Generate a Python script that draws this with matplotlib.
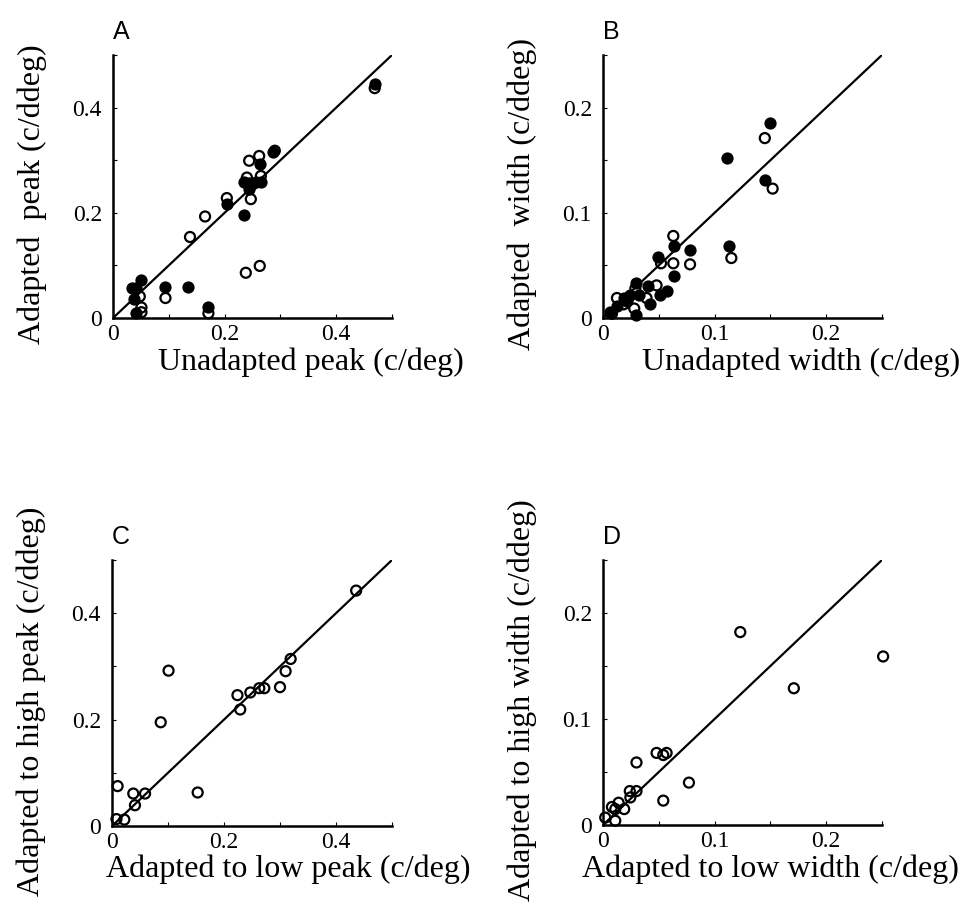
import matplotlib
matplotlib.use("Agg")
import matplotlib.pyplot as plt
from matplotlib.ticker import FixedLocator, FixedFormatter

# ---- Panel A: peak spatial frequency, unadapted vs adapted ----
peak_unadapted_solid = [0.469, 0.286, 0.263, 0.235, 0.244, 0.250, 0.257, 0.266, 0.243, 0.205,
                        0.235, 0.051, 0.034, 0.042, 0.093, 0.135, 0.038, 0.042, 0.171]
peak_adapted_solid = [0.445, 0.316, 0.292, 0.258, 0.256, 0.255, 0.258, 0.258, 0.245, 0.217,
                      0.195, 0.072, 0.057, 0.057, 0.058, 0.058, 0.036, 0.009, 0.020]
peak_unadapted_hollow = [0.469, 0.290, 0.244, 0.262, 0.240, 0.265, 0.247, 0.204, 0.165, 0.138,
                         0.238, 0.263, 0.094, 0.048, 0.051, 0.051, 0.171]
peak_adapted_hollow = [0.437, 0.318, 0.299, 0.308, 0.267, 0.270, 0.226, 0.228, 0.193, 0.154,
                       0.086, 0.099, 0.038, 0.041, 0.020, 0.011, 0.009]

# ---- Panel B: bandwidth, unadapted vs adapted ----
width_unadapted_solid = [0.150, 0.111, 0.145, 0.064, 0.078, 0.113, 0.049, 0.064, 0.030, 0.040,
                         0.051, 0.057, 0.042, 0.0245, 0.0185, 0.0215, 0.0125, 0.0066, 0.030, 0.032]
width_adapted_solid = [0.185, 0.152, 0.131, 0.068, 0.065, 0.068, 0.058, 0.040, 0.033, 0.030,
                       0.022, 0.026, 0.013, 0.022, 0.019, 0.016, 0.011, 0.006, 0.003, 0.022]
width_unadapted_hollow = [0.145, 0.152, 0.063, 0.115, 0.052, 0.063, 0.078, 0.029, 0.048, 0.0125,
                          0.028, 0.0185, 0.039, 0.008]
width_adapted_hollow = [0.171, 0.123, 0.078, 0.057, 0.052, 0.052, 0.051, 0.028, 0.031, 0.019,
                        0.009, 0.013, 0.019, 0.004]

# ---- Panel C: peak after low vs high adaptation ----
peak_low = [0.436, 0.319, 0.310, 0.300, 0.263, 0.272, 0.247, 0.224, 0.229, 0.101,
            0.087, 0.010, 0.038, 0.059, 0.041, 0.153, 0.008, 0.022]
peak_high = [0.4425, 0.314, 0.291, 0.261, 0.259, 0.259, 0.251, 0.246, 0.219, 0.292,
             0.195, 0.075, 0.061, 0.061, 0.039, 0.063, 0.013, 0.012]

# ---- Panel D: width after low vs high adaptation ----
width_low = [0.123, 0.251, 0.171, 0.048, 0.054, 0.057, 0.030, 0.077, 0.054, 0.024,
             0.030, 0.0245, 0.014, 0.008, 0.019, 0.011, 0.002, 0.011]
width_high = [0.182, 0.159, 0.129, 0.068, 0.066, 0.068, 0.059, 0.040, 0.023, 0.032,
              0.032, 0.026, 0.021, 0.017, 0.015, 0.015, 0.007, 0.004]

peak_ticks = [0, 0.1, 0.2, 0.3, 0.4, 0.5]
peak_ticklabels = ["0", "", "0.2", "", "0.4", ""]
width_ticks = [0, 0.05, 0.1, 0.15, 0.2, 0.25]
width_ticklabels = ["0", "", "0.1", "", "0.2", ""]

panel_letters = ["A", "B", "C", "D"]
x_titles = ["Unadapted peak (c/deg)", "Unadapted width (c/deg)",
            "Adapted to low peak (c/deg)", "Adapted to low width (c/deg)"]
y_titles = ["Adapted  peak (c/ddeg)", "Adapted  width (c/ddeg)",
            "Adapted to high peak (c/ddeg)", "Adapted to high width (c/ddeg)"]

SERIF = ["Liberation Serif", "DejaVu Serif"]
W, H = 959, 914
fig = plt.figure(figsize=(W / 100, H / 100), dpi=100)

# axes boxes in pixels: left, top, right, bottom
boxes = [(113, 55, 392, 318), (603, 55, 882, 318),
         (112, 560, 392, 826), (603, 560, 882, 825)]
axes = []
for (l, t, r, b) in boxes:
    axes.append(fig.add_axes([l / W, 1 - b / H, (r - l) / W, (b - t) / H]))

mk = dict(s=52, linewidths=1.6, edgecolors="black", clip_on=False, zorder=3)


def style(ax, lim, ticks, labels, letter, xt, yt, xlab_x):
    ax.set_xlim(0, lim)
    ax.set_ylim(0, lim)
    ax.plot([0, lim], [0, lim], color="black", lw=1.6, zorder=2)
    for s in ("top", "right"):
        ax.spines[s].set_visible(False)
    for s in ("left", "bottom"):
        ax.spines[s].set_linewidth(1.8)
    ax.xaxis.set_major_locator(FixedLocator(ticks))
    ax.xaxis.set_major_formatter(FixedFormatter(labels))
    ax.yaxis.set_major_locator(FixedLocator(ticks))
    ax.yaxis.set_major_formatter(FixedFormatter(labels))
    ax.tick_params(direction="in", length=3, width=0.8, labelsize=17)
    ax.tick_params(axis="x", pad=4)
    ax.tick_params(axis="y", pad=8)
    for lab in ax.get_xticklabels() + ax.get_yticklabels():
        lab.set_fontfamily(SERIF)
    px_h = ax.get_position().height * H
    ax.set_xlabel(xt, fontsize=23, family=SERIF)
    ax.xaxis.set_label_coords(xlab_x, -29 / px_h)
    ax.set_ylabel(yt, fontsize=23, family=SERIF, va="center")
    ax.yaxis.set_label_coords(-0.29, 0.47)
    ax.text(0.0, 1.04, letter, transform=ax.transAxes, fontsize=18,
            family=["Liberation Sans", "DejaVu Sans"], ha="left", va="bottom")


axA, axB, axC, axD = axes
axA.scatter(peak_unadapted_solid, peak_adapted_solid, facecolors="black", **mk)
axA.scatter(peak_unadapted_hollow, peak_adapted_hollow, facecolors="none", **mk)
style(axA, 0.5, peak_ticks, peak_ticklabels, panel_letters[0], x_titles[0], y_titles[0], 0.71)

axB.scatter(width_unadapted_solid, width_adapted_solid, facecolors="black", **mk)
axB.scatter(width_unadapted_hollow, width_adapted_hollow, facecolors="none", **mk)
style(axB, 0.25, width_ticks, width_ticklabels, panel_letters[1], x_titles[1], y_titles[1], 0.71)

axC.scatter(peak_low, peak_high, facecolors="none", **mk)
style(axC, 0.5, peak_ticks, peak_ticklabels, panel_letters[2], x_titles[2], y_titles[2], 0.63)

axD.scatter(width_low, width_high, facecolors="none", **mk)
style(axD, 0.25, width_ticks, width_ticklabels, panel_letters[3], x_titles[3], y_titles[3], 0.6)

fig.savefig("out.png", dpi=100, facecolor="white")
